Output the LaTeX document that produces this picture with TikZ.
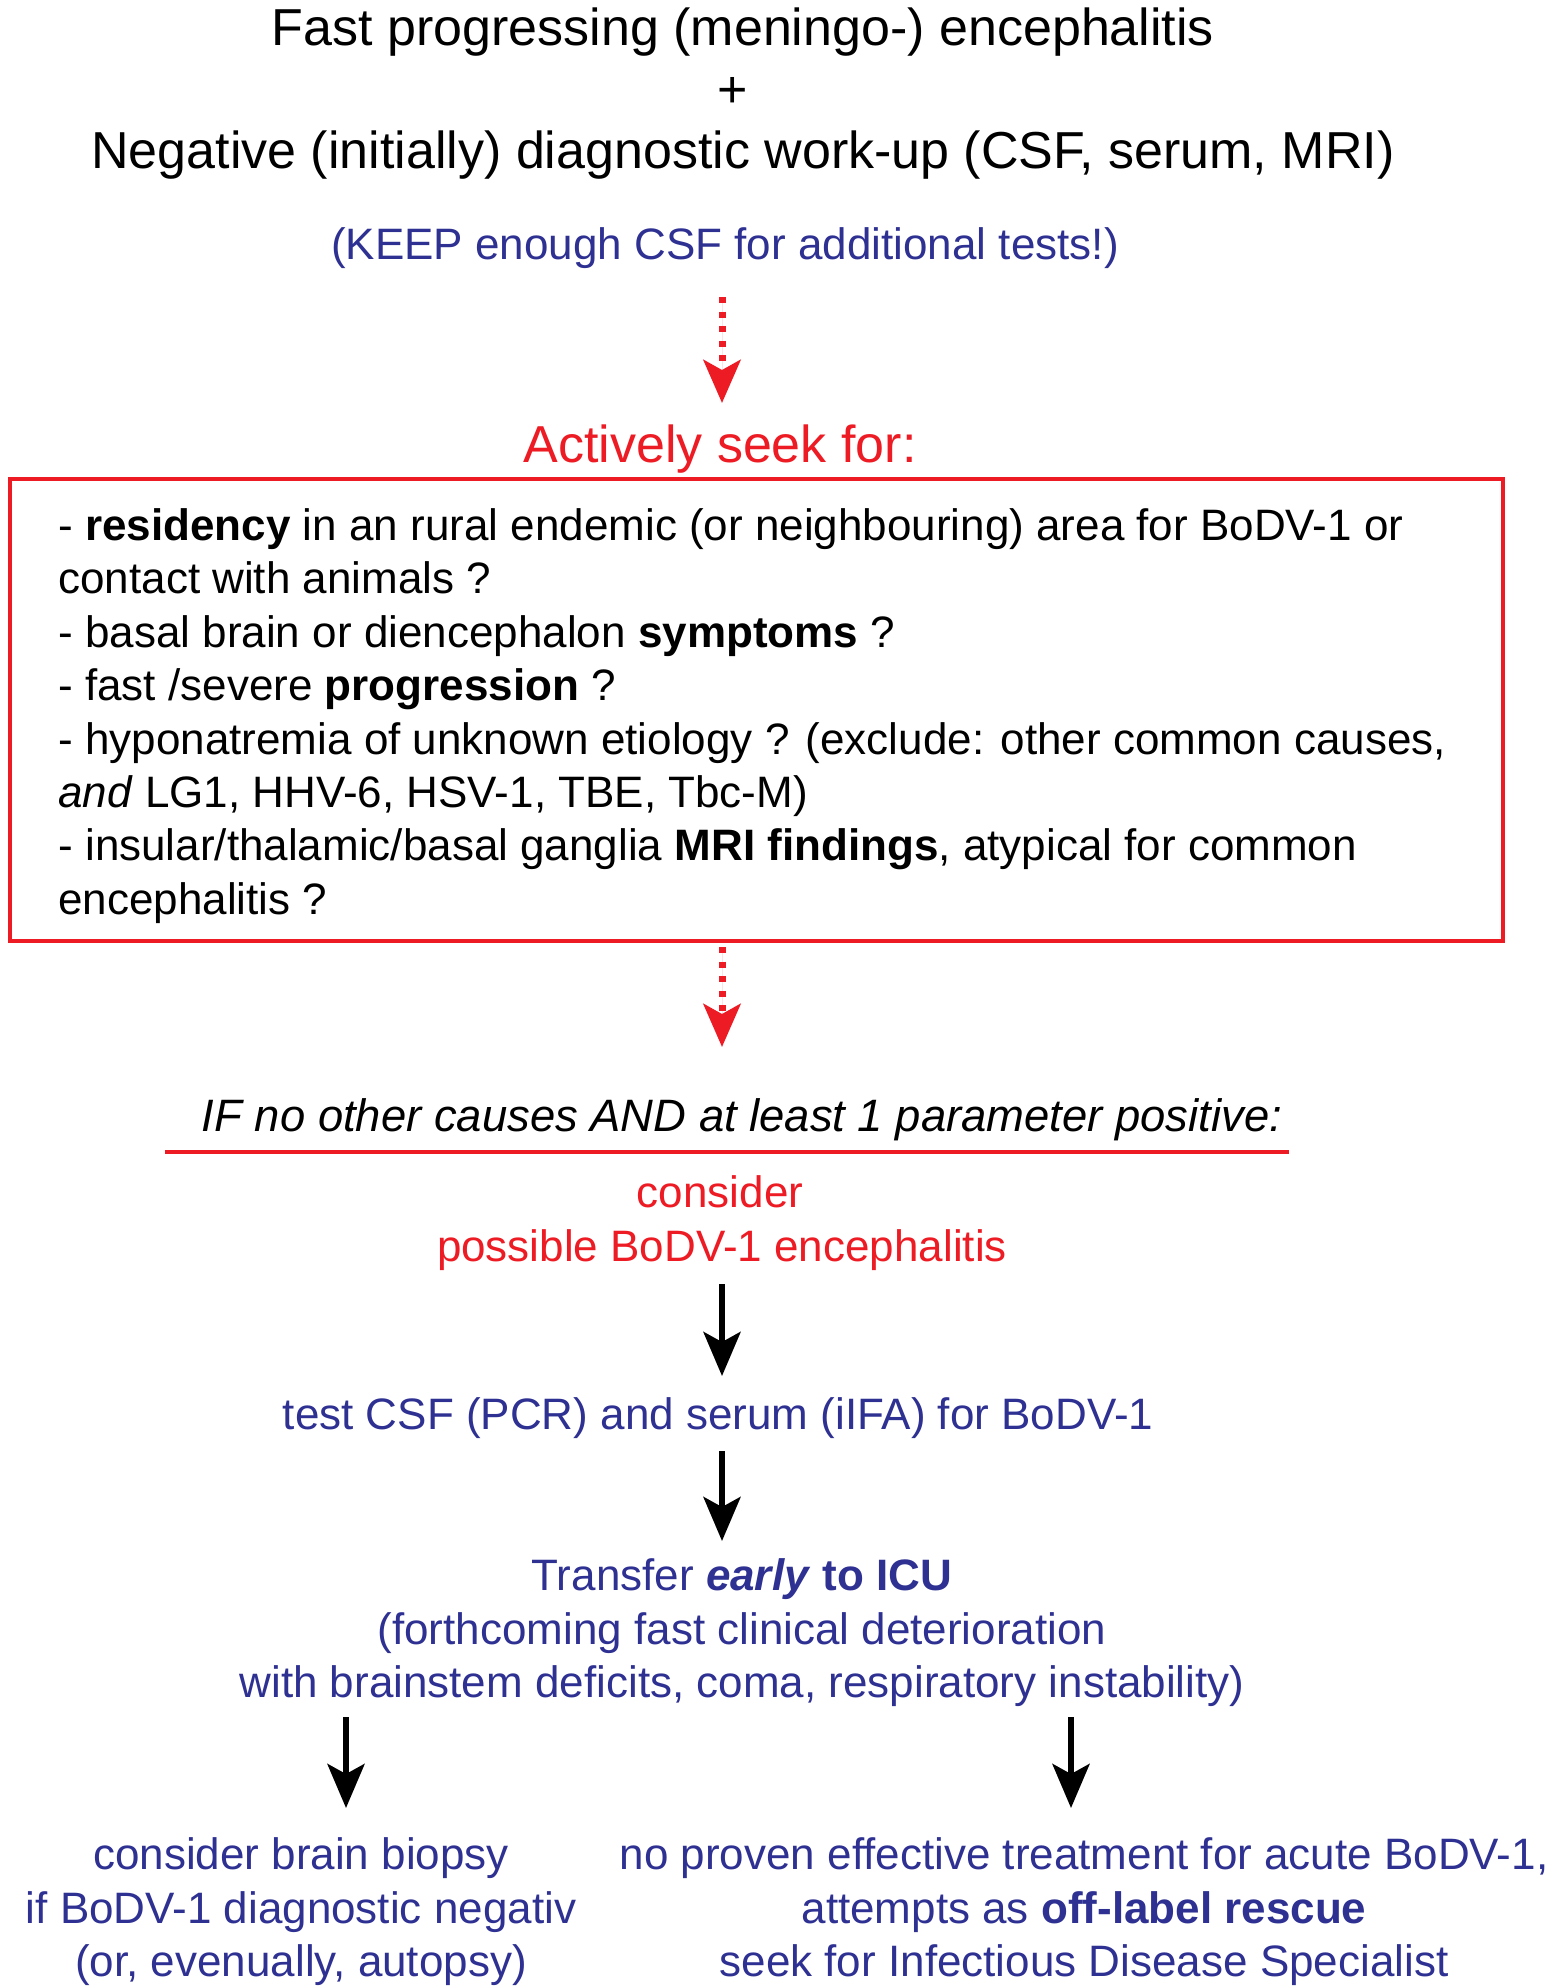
\documentclass[tikz,border=0pt]{standalone}
\usepackage{fontspec}
\setmainfont{Liberation Sans}
\usetikzlibrary{arrows.meta}
\definecolor{fred}{HTML}{ED1C24}
\definecolor{fblue}{HTML}{2E3192}
\tikzset{
  body/.style={inner sep=0pt, anchor=base, font=\fontsize{22}{26.7}\selectfont},
  big/.style={inner sep=0pt, anchor=base, font=\fontsize{26}{31}\selectfont},
  boxline/.style={body, anchor=base west},
  blk/.style={body, text=black},
  blu/.style={body, text=fblue},
  rd/.style={body, text=fred},
  blackarrow/.style={draw=black, line width=3pt, -{Stealth[length=22pt,width=18.5pt,inset=5pt]}},
  redarrow/.style={draw=fred, fill=fred, line width=3.5pt, dash pattern=on 3pt off 4.3pt, -{Stealth[length=21.5pt,width=18.5pt,inset=5pt]}}
}
\begin{document}
\begin{tikzpicture}[x=0.5pt,y=-0.5pt]
\useasboundingbox (0,0) rectangle (1559,1987);
% title
\node[big] (t1) at (743,45) {Fast progressing (meningo-) encephalitis};
\node[big] (t2) at (733,107) {+};
\node[big] (t3) at (743,168) {Negative (initially) diagnostic work-up (CSF, serum, MRI)};
\node[blu] (keep) at (725,259) {(KEEP enough CSF for additional tests!)};
% dotted arrow 1
\coordinate (d1s) at (722,297);
\coordinate (d1e) at (722,403);
\draw[redarrow] (d1s) -- (d1e);
\node[big, text=fred] (seek) at (720,462) {Actively seek for:};
% box
\draw[draw=fred, line width=1.6pt] (10,479) rectangle (1503,941);
\node[boxline] (b1) at (58,540) {- \textbf{residency} in an rural endemic (or neighbouring) area for BoDV-1 or};
\node[boxline] (b2) at (58,593) {contact with animals ?};
\node[boxline] (b3) at (58,647) {- basal brain or diencephalon \textbf{symptoms} ?};
\node[boxline] (b4) at (58,700) {- fast /severe \textbf{progression} ?};
\node[boxline] (b5) at (58,754) {- hyponatremia of unknown etiology ? (exclude: other common causes,};
\node[boxline] (b6) at (58,807) {\textit{and} LG1, HHV-6, HSV-1, TBE, Tbc-M)};
\node[boxline] (b7) at (58,860) {- insular/thalamic/basal ganglia \textbf{MRI findings}, atypical for common};
\node[boxline] (b8) at (58,914) {encephalitis ?};
% dotted arrow 2
\coordinate (d2s) at (722,947);
\coordinate (d2e) at (722,1047);
\draw[redarrow] (d2s) -- (d2e);
\node[blk, font=\fontsize{22.7}{27}\selectfont] (if) at (742,1131) {\textit{IF no other causes AND at least 1 parameter positive:}};
\coordinate (ul1) at (165,1152);
\coordinate (ul2) at (1289,1152);
\draw[draw=fred, line width=2pt] (ul1) -- (ul2);
\node[rd] (c1) at (720,1207) {consider};
\node[rd] (c2) at (722,1261) {possible BoDV-1 encephalitis};
\coordinate (a1s) at (722,1284);
\coordinate (a1e) at (722,1376);
\draw[blackarrow] (a1s) -- (a1e);
\node[blu] (test) at (718,1429) {test CSF (PCR) and serum (iIFA) for BoDV-1};
\coordinate (a2s) at (722,1451);
\coordinate (a2e) at (722,1541);
\draw[blackarrow] (a2s) -- (a2e);
\node[blu] (tr1) at (742,1590) {Transfer \textbf{\textit{early}} \textbf{to ICU}};
\node[blu] (tr2) at (742,1644) {(forthcoming fast clinical deterioration};
\node[blu] (tr3) at (742,1697) {with brainstem deficits, coma, respiratory instability)};
\coordinate (a3s) at (346,1717);
\coordinate (a3e) at (346,1808);
\draw[blackarrow] (a3s) -- (a3e);
\coordinate (a4s) at (1071,1717);
\coordinate (a4e) at (1071,1808);
\draw[blackarrow] (a4s) -- (a4e);
\node[blu] (l1) at (301,1869) {consider brain biopsy};
\node[blu] (l2) at (301,1923) {if BoDV-1 diagnostic negativ};
\node[blu] (l3) at (301,1976) {(or, evenually, autopsy)};
\node[blu] (r1) at (1084,1869) {no proven effective treatment for acute BoDV-1,};
\node[blu] (r2) at (1084,1923) {attempts as \textbf{off-label rescue}};
\node[blu] (r3) at (1084,1976) {seek for Infectious Disease Specialist};
\end{tikzpicture}
\end{document}
